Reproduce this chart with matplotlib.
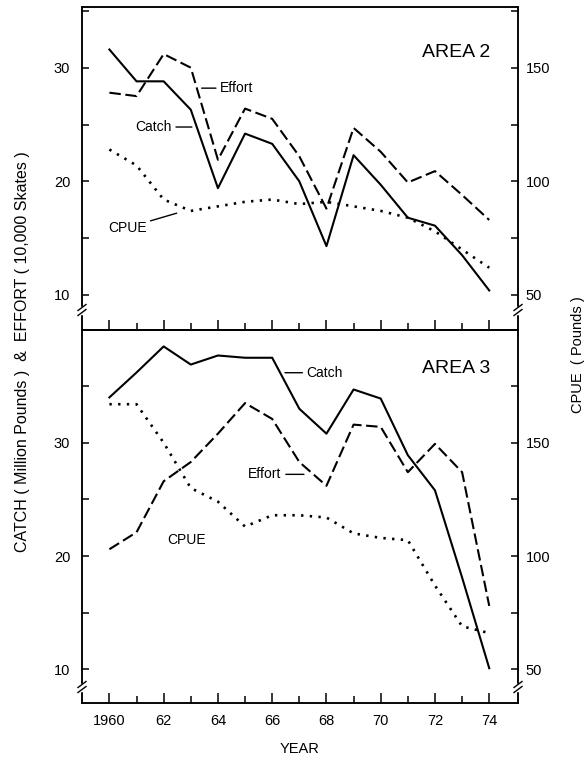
import numpy as np
import matplotlib.pyplot as plt
from matplotlib.lines import Line2D
from matplotlib.ticker import FixedLocator

plt.rcParams['font.family'] = ['Liberation Sans', 'DejaVu Sans']

years = np.arange(1960, 1975)
year_labels = ['1960', '62', '64', '66', '68', '70', '72', '74']

# Area 2
catch2 = [31.6, 28.8, 28.8, 26.3, 19.4, 24.2, 23.3, 20.0, 14.3, 22.3, 19.7, 16.8, 16.1, 13.5, 10.4]
effort2 = [27.8, 27.5, 31.2, 30.0, 21.9, 26.4, 25.5, 22.2, 17.6, 24.7, 22.6, 19.9, 20.9, 18.8, 16.6]
cpue2 = [114, 107, 92, 87, 89, 91, 92, 90, 91, 89, 87, 84, 78, 70, 62]

# Area 3
catch3 = [34.0, 36.2, 38.5, 36.9, 37.7, 37.5, 37.5, 33.0, 30.8, 34.7, 33.9, 28.9, 25.8, 18.1, 10.1]
effort3 = [20.6, 22.1, 26.6, 28.3, 30.8, 33.5, 32.1, 28.3, 26.2, 31.6, 31.4, 27.4, 29.9, 27.4, 15.6]
cpue3 = [167, 167, 150, 130, 124, 113, 118, 118, 117, 110, 108, 107, 87, 69, 66]

W_PX, H_PX = 586, 760
fig = plt.figure(figsize=(W_PX / 100, H_PX / 100), dpi=100)

L = 82 / W_PX
W = 436 / W_PX
ax_top = fig.add_axes([L, 1 - 330 / H_PX, W, 323 / H_PX])
ax_bot = fig.add_axes([L, 1 - 703 / H_PX, W, 373 / H_PX])

lw = 1.5
dash = (0, (5.5, 2.2))
dot = (0, (0.9, 2.4))


def setup(ax, ylim, show_x):
    ax.set_xlim(1958.99, 1975.06)
    ax.set_ylim(*ylim)
    ax2 = ax.twinx()
    ax2.set_ylim(ylim[0] * 5, ylim[1] * 5)
    for a in (ax, ax2):
        for s in a.spines.values():
            s.set_linewidth(1.1)
    ax.xaxis.set_major_locator(FixedLocator(years[::2]))
    ax.xaxis.set_minor_locator(FixedLocator(years[1::2]))
    ax.tick_params(axis='x', which='major', direction='in', length=7, width=1.1,
                   labelsize=10.5, pad=8, labelbottom=show_x)
    ax.tick_params(axis='x', which='minor', direction='in', length=5, width=1.1)
    if show_x:
        ax.set_xticklabels(year_labels)
    ax.yaxis.set_major_locator(FixedLocator([10, 20, 30]))
    ax.yaxis.set_minor_locator(FixedLocator([15, 25, 35]))
    ax.tick_params(axis='y', which='both', direction='in', length=5, width=1.1,
                   labelsize=10.5, pad=8.5)
    ax2.yaxis.set_major_locator(FixedLocator([50, 100, 150]))
    ax2.yaxis.set_minor_locator(FixedLocator([75, 125, 175]))
    ax2.tick_params(axis='y', which='both', direction='in', length=5, width=1.1,
                    labelsize=10.5, pad=5.5)
    return ax2


ax2_top = setup(ax_top, (6.92, 35.34), False)
ax2_bot = setup(ax_bot, (7.03, 39.95), True)

ax_top.plot(years, catch2, color='black', lw=lw)
ax_top.plot(years, effort2, color='black', lw=lw, linestyle=dash)
ax2_top.plot(years, cpue2, color='black', lw=1.9, linestyle=dot)

ax_bot.plot(years, catch3, color='black', lw=lw)
ax_bot.plot(years, effort3, color='black', lw=lw, linestyle=dash)
ax2_bot.plot(years, cpue3, color='black', lw=1.9, linestyle=dot)

# panel titles
ax_top.text(1974.05, 31.38, 'AREA 2', ha='right', va='center', fontsize=14)
ax_bot.text(1974.05, 36.59, 'AREA 3', ha='right', va='center', fontsize=14)

# line labels with leaders
lead = dict(arrowstyle='-', lw=1.0, color='black', shrinkA=1, shrinkB=0)
ax_top.annotate('Effort', xy=(1963.4, 28.2), xytext=(1964.08, 28.2),
                ha='left', va='center', fontsize=10, arrowprops=lead)
ax_top.annotate('Catch', xy=(1963.04, 24.78), xytext=(1962.3, 24.78),
                ha='right', va='center', fontsize=10, arrowprops=lead)
ax_top.annotate('CPUE', xy=(1962.48, 17.2), xytext=(1959.94, 15.92),
                ha='left', va='center', fontsize=10, arrowprops=lead)
ax_bot.annotate('Catch', xy=(1966.47, 36.18), xytext=(1967.27, 36.18),
                ha='left', va='center', fontsize=10, arrowprops=lead)
ax_bot.annotate('Effort', xy=(1967.17, 27.21), xytext=(1966.35, 27.21),
                ha='right', va='center', fontsize=10, arrowprops=lead)
ax_bot.text(1962.13, 21.41, 'CPUE', ha='left', va='center', fontsize=10)


# axis break marks on the side spines
def brk(px, py):
    fx, fy = px / W_PX, 1 - py / H_PX
    dx, dy = 4 / W_PX, 3 / H_PX
    gap = 2.5 / H_PX
    fig.add_artist(Line2D([fx, fx], [fy - gap, fy + gap], color='white', lw=2.5,
                          transform=fig.transFigure))
    for off in (-gap, gap):
        fig.add_artist(Line2D([fx - dx, fx + dx], [fy + off - dy, fy + off + dy],
                              color='black', lw=1.0, transform=fig.transFigure))


for py in (310, 687):
    brk(82, py)
    brk(518, py)

fig.text(23 / W_PX, 1 - 352 / H_PX, 'CATCH ( Million Pounds )  &  EFFORT ( 10,000 Skates )',
         rotation=90, ha='center', va='center', fontsize=11.5)
fig.text(578 / W_PX, 1 - 355 / H_PX, 'CPUE  ( Pounds )', rotation=90,
         ha='center', va='center', fontsize=10.5)
fig.text(300 / W_PX, 1 - 749 / H_PX, 'YEAR', ha='center', va='center', fontsize=10.5)

fig.savefig('out.png', dpi=100, facecolor='white')
